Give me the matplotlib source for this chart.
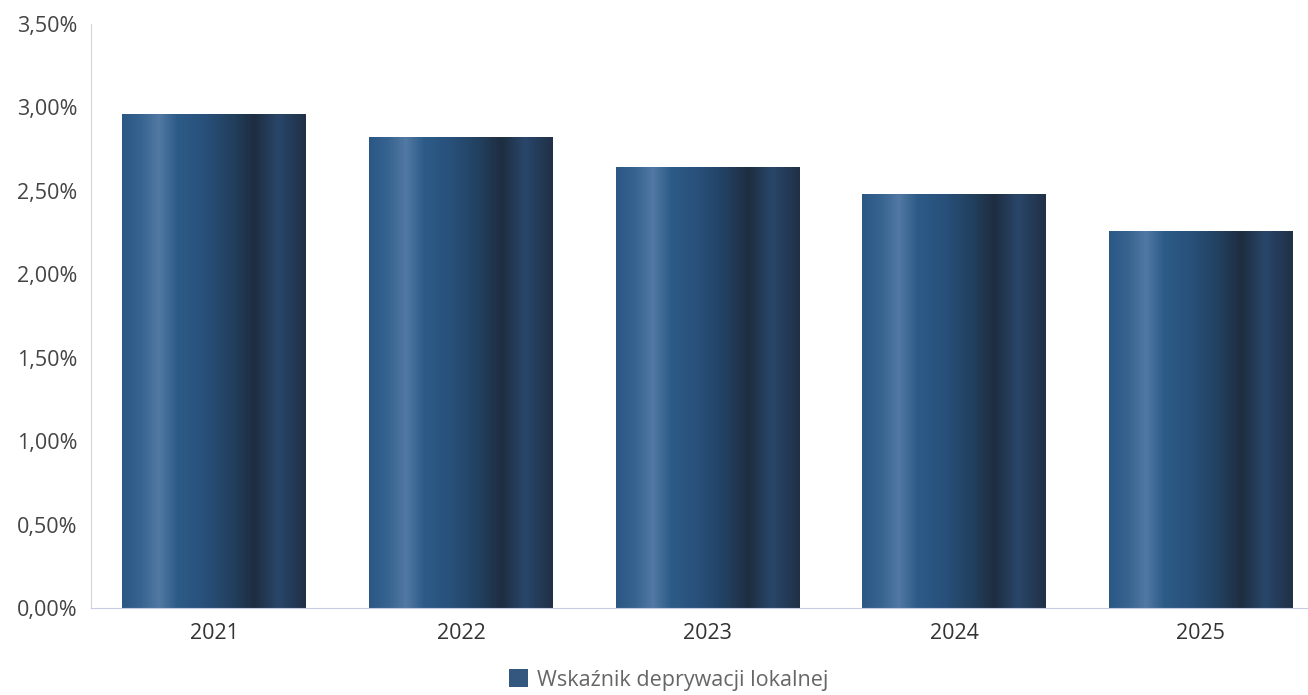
import numpy as np
import matplotlib.pyplot as plt
from matplotlib.colors import LinearSegmentedColormap
from matplotlib.patches import Patch

# Dane
lata = ['2021', '2022', '2023', '2024', '2025']
wartosci = [2.96, 2.82, 2.64, 2.48, 2.26]
y_ticks = [0, 0.5, 1.0, 1.5, 2.0, 2.5, 3.0, 3.5]
y_labels = ['0,00%', '0,50%', '1,00%', '1,50%', '2,00%', '2,50%', '3,00%', '3,50%']
seria = 'Wskaźnik deprywacji lokalnej'

plt.rcParams['font.family'] = ['Open Sans', 'DejaVu Sans']

fig = plt.figure(figsize=(13.08, 6.95), dpi=100)
ax = fig.add_axes([91 / 1308, 87 / 695, 1 - 91 / 1308, (608 - 24) / 695])

x = np.arange(len(lata))
bars = ax.bar(x, wartosci, width=0.745, facecolor='none', edgecolor='none')

# gradient w pionowe pasy, jak na oryginale
cmap = LinearSegmentedColormap.from_list('pasy', [
    (0.00, '#2b5785'),
    (0.10, '#36638f'),
    (0.20, '#5279a3'),
    (0.30, '#2d5b88'),
    (0.45, '#28507a'),
    (0.60, '#22405f'),
    (0.72, '#1e2d40'),
    (0.85, '#29466a'),
    (1.00, '#203046'),
])
grad = np.linspace(0, 1, 256).reshape(1, -1)
for b in bars:
    x0, w, h = b.get_x(), b.get_width(), b.get_height()
    im = ax.imshow(grad, cmap=cmap, aspect='auto', extent=(x0, x0 + w, 0, h),
                   interpolation='bicubic', zorder=2)
    im.set_clip_path(b)

ax.set_xlim(-0.5, 4.435)
ax.set_ylim(0, 3.5)
ax.set_xticks(x)
ax.set_xticklabels(lata, fontsize=15.5, color='#333333')
ax.set_yticks(y_ticks)
ax.set_yticklabels(y_labels, fontsize=15.5, color='#444444')
ax.tick_params(axis='both', length=0)
ax.tick_params(axis='x', pad=11)
ax.tick_params(axis='y', pad=10)

for s in ['top', 'right']:
    ax.spines[s].set_visible(False)
ax.spines['left'].set_color('#d6d6d6')
ax.spines['bottom'].set_color('#c8cce0')

fig.legend(handles=[Patch(facecolor='#34577f', edgecolor='none', label=seria)],
           loc='center', bbox_to_anchor=(0.5115, 1 - 680 / 695), frameon=False,
           fontsize=15.5, labelcolor='#666666', handlelength=0.85, handleheight=0.85,
           handletextpad=0.45)

fig.savefig('out.png', dpi=100)
